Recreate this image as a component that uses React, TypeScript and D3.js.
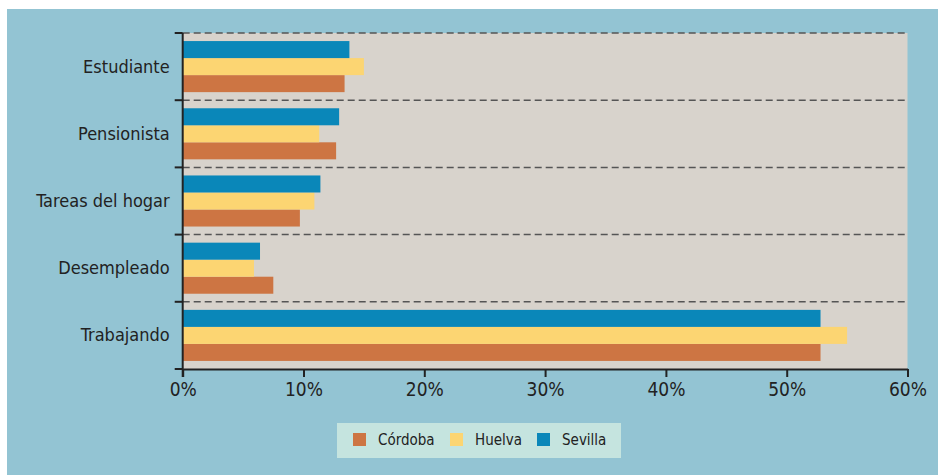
import React, { useEffect, useRef } from 'react';
import { select, scaleBand, scaleLinear, axisBottom, axisLeft, range } from 'd3';

const categories = ['Estudiante', 'Pensionista', 'Tareas del hogar', 'Desempleado', 'Trabajando'];
const series = ['Córdoba', 'Huelva', 'Sevilla'];
const cordoba = [13.4, 12.7, 9.7, 7.5, 52.8];
const huelva = [15.0, 11.3, 10.9, 5.9, 55.0];
const sevilla = [13.8, 12.95, 11.4, 6.4, 52.8];
const xTicks = [0, 10, 20, 30, 40, 50, 60];

const colors: Record<string, string> = {
    'Córdoba': '#cd7543',
    'Huelva': '#fcd572',
    'Sevilla': '#0a87b9',
};

const font = "'DejaVu Sans Condensed', 'DejaVu Sans', sans-serif";

const Chart = ({ width, height }: { width: number; height: number }) => {
    const svgRef = useRef<SVGSVGElement>(null);
    const margin = { top: 33, right: 30.5, bottom: 106, left: 182.7 };
    const innerWidth = width - margin.left - margin.right;
    const innerHeight = height - margin.top - margin.bottom;

    useEffect(() => {
        const svg = select(svgRef.current);
        svg.selectAll('*').remove();

        // outer panel
        svg.append('rect')
            .attr('x', 7).attr('y', 9)
            .attr('width', width - 7).attr('height', height - 9)
            .attr('fill', '#93c4d3');

        const g = svg.append('g')
            .attr('transform', `translate(${margin.left},${margin.top})`);

        g.append('rect')
            .attr('width', innerWidth).attr('height', innerHeight)
            .attr('fill', '#d8d3cc');

        const x = scaleLinear().domain([0, 60]).range([0, innerWidth]);
        const y = scaleBand()
            .domain(categories)
            .range([0, innerHeight])
            .paddingInner(0.24)
            .paddingOuter(0.12);
        const sub = scaleBand()
            .domain(['Sevilla', 'Huelva', 'Córdoba'])
            .range([0, y.bandwidth()]);

        const step = y.step();
        const boundaries = range(categories.length + 1).map(i => i * step);

        // dashed separators
        g.selectAll('line.grid')
            .data(boundaries.slice(0, categories.length))
            .enter()
            .append('line')
            .attr('class', 'grid')
            .attr('x1', 0).attr('x2', innerWidth)
            .attr('y1', d => d).attr('y2', d => d)
            .attr('stroke', '#555')
            .attr('stroke-width', 1.5)
            .attr('stroke-dasharray', '7,4');

        const values: Record<string, number[]> = {
            'Córdoba': cordoba,
            'Huelva': huelva,
            'Sevilla': sevilla,
        };

        series.forEach(s => {
            g.selectAll(`rect.bar-${s}`)
                .data(categories)
                .enter()
                .append('rect')
                .attr('x', 0)
                .attr('y', d => (y(d) as number) + (sub(s) as number))
                .attr('width', (d, i) => x(values[s][i]))
                .attr('height', sub.bandwidth())
                .attr('fill', colors[s]);
        });

        // left axis: ticks at band boundaries
        const yAxis = g.append('g');
        yAxis.append('line')
            .attr('x1', 0).attr('x2', 0)
            .attr('y1', 0).attr('y2', innerHeight + 8)
            .attr('stroke', '#222').attr('stroke-width', 2);
        yAxis.selectAll('line.tick')
            .data(boundaries)
            .enter()
            .append('line')
            .attr('x1', -8).attr('x2', 0)
            .attr('y1', d => d).attr('y2', d => d)
            .attr('stroke', '#222').attr('stroke-width', 2);
        yAxis.selectAll('text')
            .data(categories)
            .enter()
            .append('text')
            .attr('x', -13)
            .attr('y', d => (y(d) as number) + y.bandwidth() / 2 + 6)
            .attr('text-anchor', 'end')
            .style('font-family', font)
            .style('font-size', '18px')
            .style('fill', '#222')
            .text(d => d);

        // bottom axis
        const xAxis = axisBottom(x)
            .tickValues(xTicks)
            .tickFormat(d => `${d}%`)
            .tickSize(8)
            .tickSizeOuter(0)
            .tickPadding(6);
        const xg = g.append('g')
            .attr('transform', `translate(0,${innerHeight})`)
            .call(xAxis);
        xg.select('.domain').attr('stroke', '#222').attr('stroke-width', 2);
        xg.selectAll('.tick line').attr('stroke', '#222').attr('stroke-width', 2);
        xg.selectAll('.tick text')
            .style('font-family', font)
            .style('font-size', '19px')
            .style('fill', '#222');

        // legend
        const lg = svg.append('g').attr('transform', 'translate(337,423)');
        lg.append('rect')
            .attr('width', 284).attr('height', 35)
            .attr('fill', '#c5e4df');
        const legendX = [16, 113, 200];
        series.forEach((s, i) => {
            lg.append('rect')
                .attr('x', legendX[i]).attr('y', 10)
                .attr('width', 13).attr('height', 13)
                .attr('fill', colors[s]);
            lg.append('text')
                .attr('x', legendX[i] + 25).attr('y', 22)
                .style('font-family', font)
                .style('font-size', '15px')
                .style('fill', '#222')
                .text(s);
        });
    }, []);

    return (
        <svg
            width={width}
            height={height}
            ref={svgRef}
            style={{ position: 'absolute', left: 0, top: 0, background: '#fff' }}
        />
    );
};

export default function App() {
    return <Chart width={938} height={475} />;
}
